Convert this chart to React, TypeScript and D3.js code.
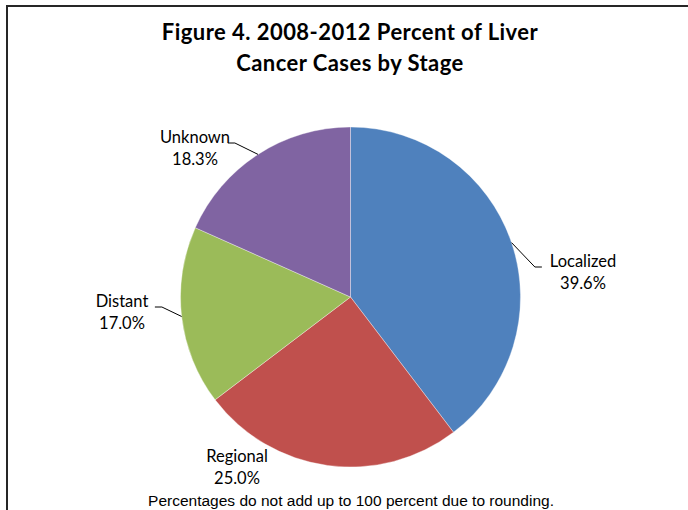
import React from "react";
import * as d3 from "d3";

// Stage categories and their share of cases (percent)
const stages = ["Localized", "Regional", "Distant", "Unknown"];
const percents = [39.6, 25.0, 17.0, 18.3];
const colors = ["#4F81BD", "#C0504D", "#9BBB59", "#8064A2"];

const titleLines = ["Figure 4. 2008-2012 Percent of Liver", "Cancer Cases by Stage"];
const footnote = "Percentages do not add up to 100 percent due to rounding.";

// Label placement: block centre x, first baseline y, leader side (0 = none)
const labelLayout = [
  { cx: 583, y: 267, side: -1 },
  { cx: 237, y: 462, side: 0 },
  { cx: 122, y: 307, side: 1 },
  { cx: 195, y: 143, side: 1 },
];

const W = 688;
const H = 510;
const cx = 350.5;
const cy = 297;
const radius = 170;
const labelFont = "Lato, 'Open Sans', sans-serif";
const labelSize = 16.5;
const lineGap = 22;

export default function App() {
  const data = stages.map((s, i) => ({ stage: s, value: percents[i], color: colors[i] }));
  const pie = d3
    .pie<any>()
    .sort(null)
    .value((d) => d.value);
  const arcs = pie(data);
  const arc = d3.arc<any>().innerRadius(0).outerRadius(radius);

  return (
    <svg
      width={W}
      height={H}
      style={{ position: "absolute", left: 0, top: 0, background: "#fff" }}
    >
      <rect x={7} y={6} width={W + 10} height={H + 10} fill="#fff" stroke="#262626" strokeWidth={2} />
      <g
        fontFamily={labelFont}
        fontWeight="bold"
        fontSize={22}
        letterSpacing={0.45}
        fill="#000"
        textAnchor="middle"
      >
        {titleLines.map((t, i) => (
          <text key={i} x={350} y={40 + i * 30.5}>
            {t}
          </text>
        ))}
      </g>
      <g transform={`translate(${cx},${cy})`}>
        {arcs.map((a, i) => (
          <path
            key={i}
            d={arc(a) as string}
            fill={a.data.color}
            stroke="#ffffff"
            strokeOpacity={0.45}
            strokeWidth={0.8}
          />
        ))}
      </g>
      {arcs.map((a, i) => {
        const L = labelLayout[i];
        const mid = (a.startAngle + a.endAngle) / 2;
        const px = cx + radius * Math.sin(mid);
        const py = cy - radius * Math.cos(mid);
        const label = a.data.stage;
        const pct = d3.format(".1f")(a.data.value) + "%";
        let leader = null;
        if (L.side !== 0) {
          // horizontal stub ends just beside the label text
          const halfW = label.length * labelSize * 0.25;
          const endX = L.cx + L.side * (halfW + 4);
          const elbowX = endX + L.side * 7;
          leader = (
            <polyline
              points={`${px},${py} ${elbowX},${L.y} ${endX},${L.y}`}
              fill="none"
              stroke="#000"
              strokeWidth={1}
            />
          );
        }
        return (
          <g key={i}>
            {leader}
            <text
              x={L.cx}
              y={L.y}
              textAnchor="middle"
              fontFamily={labelFont}
              fontSize={labelSize}
              fill="#000"
            >
              <tspan x={L.cx} dy={0}>
                {label}
              </tspan>
              <tspan x={L.cx} dy={lineGap}>
                {pct}
              </tspan>
            </text>
          </g>
        );
      })}
      <text
        x={351}
        y={506}
        textAnchor="middle"
        fontFamily="'Liberation Sans', Arial, sans-serif"
        fontSize={15.5}
        fill="#000"
      >
        {footnote}
      </text>
    </svg>
  );
}
